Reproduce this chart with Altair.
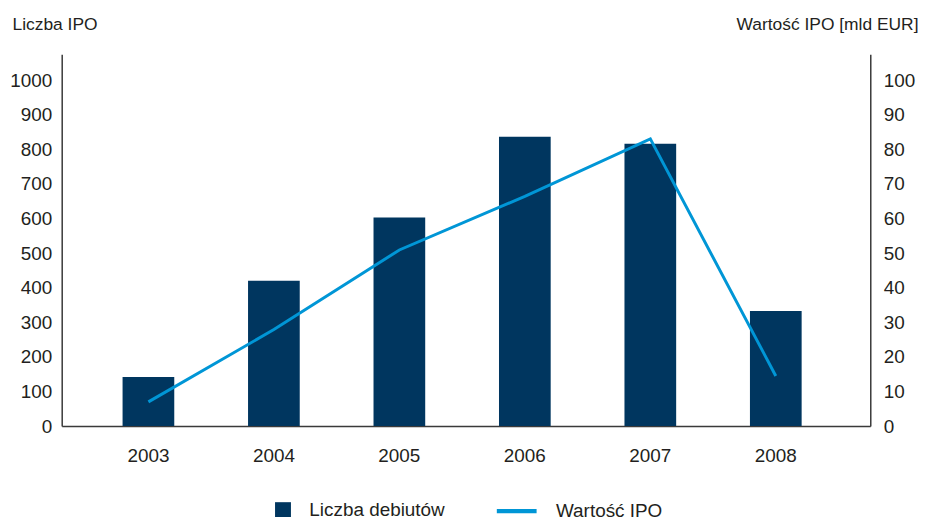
import altair as alt
import pandas as pd

years = ["2003", "2004", "2005", "2006", "2007", "2008"]
ipo_count = [142, 420, 603, 836, 816, 333]
ipo_value = [7.0, 27.9, 50.9, 66.4, 83.0, 14.5]
left_ticks = list(range(0, 1001, 100))
right_ticks = list(range(0, 101, 10))

df = pd.DataFrame({
    "rok": years,
    "liczba": ipo_count,
    "wartosc": ipo_value,
    "s1": ["Liczba debiutów"] * len(years),
    "s2": ["Wartość IPO"] * len(years),
})

FONT = "Liberation Sans"
TXT = "#231f20"
AX = "#3a3a3a"
DARK = "#00365f"
LIGHT = "#0096d6"
NOVIEW = alt.ViewBackground(stroke=None, strokeWidth=0)

x = alt.X(
    "rok:N",
    scale=alt.Scale(paddingInner=0.588, paddingOuter=0.516, align=0.47),
    axis=alt.Axis(title=None, labelAngle=0, ticks=False, labelPadding=21,
                  labelFontSize=19, labelColor=TXT, labelFont=FONT,
                  domainColor=AX, domainWidth=1.5, grid=False),
)

bars = alt.Chart(df).mark_bar().encode(
    x=x,
    y=alt.Y("liczba:Q",
            scale=alt.Scale(domain=[0, 1075], nice=False),
            axis=alt.Axis(values=left_ticks, format="d", title="Liczba IPO", titleAngle=0,
                          titleX=-50, titleY=-30, titleAlign="left",
                          titleBaseline="middle", titleFontSize=17.5,
                          titleFontWeight="normal", titleFont=FONT, titleColor=TXT,
                          ticks=False, labelPadding=10, labelFontSize=19,
                          labelFont=FONT, labelColor=TXT, domainColor=AX,
                          domainWidth=1.5, grid=False)),
    fill=alt.Fill("s1:N", scale=alt.Scale(range=[DARK]),
                  legend=alt.Legend(title=None, orient="none", legendX=213,
                                    legendY=449, symbolType="square",
                                    symbolSize=256, symbolStrokeWidth=0,
                                    labelFontSize=19, labelFont=FONT,
                                    labelColor=TXT, labelOffset=17, padding=0)),
)

line = alt.Chart(df).mark_line(strokeWidth=3).encode(
    x=x,
    y=alt.Y("wartosc:Q",
            scale=alt.Scale(domain=[0, 107.5], nice=False),
            axis=alt.Axis(orient="right", values=right_ticks, format="d",
                          title="Wartość IPO [mld EUR]", titleAngle=0,
                          titleX=48, titleY=-30, titleAlign="right",
                          titleBaseline="middle", titleFontSize=17.5,
                          titleFontWeight="normal", titleFont=FONT, titleColor=TXT,
                          ticks=False, labelPadding=13, labelFontSize=19,
                          labelFont=FONT, labelColor=TXT, domainColor=AX,
                          domainWidth=1.5, grid=False)),
    stroke=alt.Stroke("s2:N", scale=alt.Scale(range=[LIGHT]),
                      legend=alt.Legend(title=None, orient="none", legendX=435,
                                        legendY=437, symbolType="stroke",
                                        symbolSize=1600, symbolStrokeWidth=4.5,
                                        labelFontSize=19, labelFont=FONT,
                                        labelColor=TXT, labelOffset=17, padding=0)),
)

chart = alt.layer(bars, line).resolve_scale(
    y="independent", fill="independent", stroke="independent"
).properties(
    width=813, height=374,
    view=NOVIEW,
    autosize=alt.AutoSizeParams(type="none"),
    padding={"left": 54, "top": 45, "right": 50, "bottom": 90},
).configure_view(strokeWidth=0, stroke=None).configure_axis(
    grid=False, domainColor=AX
).configure(font=FONT)

chart.save("out.html", embed_options={"renderer": "svg", "actions": False})
